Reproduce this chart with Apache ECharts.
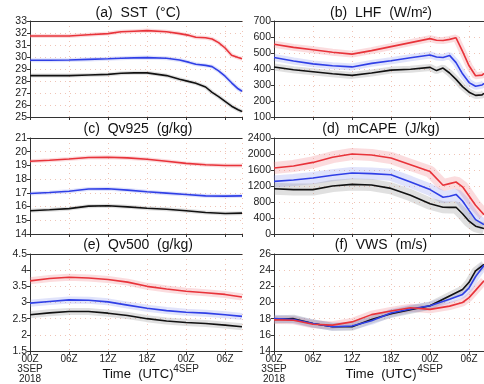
<!DOCTYPE html>
<html><head><meta charset="utf-8">
<script src="https://cdn.jsdelivr.net/npm/echarts@6/dist/echarts.min.js"></script>
<style>html,body{margin:0;padding:0;background:#fff}#c{width:484px;height:384px}</style>
</head><body><div id="c"></div>
<script>
// ---- data (hours since 00Z 3 SEP 2018) ----
const tickLabels = ["00Z\n3SEP\n2018", "06Z", "12Z", "18Z", "00Z\n4SEP", "06Z"];

const hoursA = [0,3,6,9,12,14,16,18,21,23,24.5,25.5,27,28,29,30,31,32,32.6];
const redA   = [31.75,31.75,31.75,31.85,31.95,32.1,32.15,32.2,32.1,31.95,31.8,31.65,31.6,31.5,31.2,30.75,30.15,29.95,29.85];
const blueA  = [29.73,29.73,29.75,29.8,29.85,29.9,29.93,29.95,29.9,29.75,29.55,29.4,29.3,29.2,28.85,28.4,27.85,27.35,27.15];
const blackA = [28.45,28.45,28.45,28.5,28.55,28.65,28.68,28.68,28.45,28.15,27.95,27.82,27.5,27.05,26.7,26.3,25.9,25.6,25.45];

const hoursB = [0,3,6,9,12,15,18,21,24,25,26,27,28,29,30,31,32,32.3];
const redB   = [555,535,520,505,493,515,540,565,590,580,578,585,595,510,420,358,362,372];
const blueB  = [472,450,432,420,413,435,452,470,488,475,472,485,440,370,315,292,300,310];
const blackB = [413,395,383,370,360,375,393,398,410,390,406,375,335,290,255,235,238,248];

const hoursC = [0,3,6,9,12,15,18,21,24,27,30,32.6];
const redC   = [19.3,19.38,19.47,19.58,19.6,19.55,19.45,19.3,19.15,19.05,19.0,19.0];
const blueC  = [16.95,17.03,17.12,17.28,17.3,17.2,17.08,16.98,16.88,16.78,16.76,16.78];
const blackC = [15.7,15.77,15.85,16.03,16.06,15.98,15.88,15.8,15.7,15.57,15.5,15.52];

const hoursD = [0,3,6,9,12,15,18,21,24,26,27,28,29,30,31,32.3];
const redD   = [1650,1700,1790,1920,2000,1975,1900,1730,1560,1220,1260,1300,1180,950,720,480];
const blueD  = [1315,1350,1400,1470,1525,1510,1480,1300,1110,920,945,990,825,590,360,235];
const blackD = [1130,1110,1110,1200,1240,1225,1140,970,755,670,665,670,505,320,195,135];

const hoursE = [0,3,6,9,12,15,18,21,24,27,30,32.6];
const redE   = [3.67,3.74,3.78,3.76,3.71,3.63,3.5,3.42,3.35,3.3,3.25,3.17];
const blueE  = [2.98,3.03,3.08,3.07,3.02,2.92,2.82,2.75,2.7,2.67,2.62,2.57];
const blackE = [2.62,2.68,2.72,2.72,2.67,2.6,2.5,2.43,2.38,2.35,2.3,2.25];

const hoursF = [0,3,6,9,12,15,18,21,24,27,29,30,31,32.3];
const redF   = [17.85,17.8,17.3,17.2,17.6,18.5,18.95,19.35,19.15,19.55,20.0,20.6,21.5,22.7];
const blueF  = [18.0,17.9,17.4,17.0,17.1,17.75,18.7,19.2,19.6,20.4,21.0,21.8,23.2,24.6];
const blackF = [17.9,18.0,17.4,17.0,17.0,17.9,18.6,19.1,19.6,20.8,21.6,22.5,23.9,24.7];

const titles = ["(a)  SST  (°C)", "(b)  LHF  (W/m²)", "(c)  Qv925  (g/kg)", "(d)  mCAPE  (J/kg)", "(e)  Qv500  (g/kg)", "(f)  VWS  (m/s)"];
const xTitle = "Time  (UTC)";

// ---- layout / styles ----
const cols = [{left: 30, width: 212, max: 32.6, cx: 138}, {left: 274, width: 210, max: 32.3, cx: 381}];
const rows = [{top: 21, height: 96, ty: 13}, {top: 138, height: 96, ty: 129}, {top: 254, height: 98, ty: 245}];
const panels = [
  {h: hoursA, s: [redA, blueA, blackA], min: 25, max: 33, iv: 1, band: 4},
  {h: hoursB, s: [redB, blueB, blackB], min: 100, max: 700, iv: 100, band: 7},
  {h: hoursC, s: [redC, blueC, blackC], min: 14, max: 21, iv: 1, band: 4},
  {h: hoursD, s: [redD, blueD, blackD], min: 0, max: 2400, iv: 400, band: 12},
  {h: hoursE, s: [redE, blueE, blackE], min: 1.5, max: 4.5, iv: 0.5, band: 7},
  {h: hoursF, s: [redF, blueF, blackF], min: 14, max: 26, iv: 2, band: 8}
];
const lineColors = ['#e8333a', '#2f3fe6', '#111111'];
const bandColors = ['rgba(240,130,135,0.28)', 'rgba(130,145,240,0.25)', 'rgba(130,130,130,0.25)'];
const gridColor = '#efc4b6';
const font = 'Liberation Sans, Arial, sans-serif';

const grid = [], xAxis = [], yAxis = [], series = [], graphic = [];
panels.forEach((p, i) => {
  const c = cols[i % 2], r = rows[Math.floor(i / 2)];
  const bottomRow = Math.floor(i / 2) === 2;
  grid.push({left: c.left, top: r.top, width: c.width, height: r.height, containLabel: false});
  xAxis.push({
    type: 'value', gridIndex: i, min: 0, max: c.max, interval: 6, position: 'bottom',
    axisLine: {show: true, lineStyle: {color: '#333', width: 1}},
    axisTick: {show: true, length: 3, lineStyle: {color: '#333'}},
    axisLabel: {show: bottomRow, showMaxLabel: false, color: '#222', fontFamily: font, fontSize: 10, lineHeight: 10, margin: 3,
      formatter: v => (Math.abs(v / 6 - Math.round(v / 6)) < 1e-6 ? (tickLabels[Math.round(v / 6)] || '') : '')},
    splitLine: {show: true, lineStyle: {color: gridColor, type: [1, 4], width: 1}}
  });
  xAxis.push({
    type: 'value', gridIndex: i, min: 0, max: c.max, position: 'top',
    axisLine: {show: true, onZero: false, lineStyle: {color: '#333', width: 1}},
    axisTick: {show: false}, axisLabel: {show: false}, splitLine: {show: false}
  });
  yAxis.push({
    type: 'value', gridIndex: i, min: p.min, max: p.max, interval: p.iv,
    axisLine: {show: true, lineStyle: {color: '#333', width: 1}},
    axisTick: {show: true, length: 3, lineStyle: {color: '#333'}},
    axisLabel: {color: '#222', fontFamily: font, fontSize: 10.5, margin: 3, formatter: v => String(v)},
    splitLine: {show: true, lineStyle: {color: gridColor, type: [1, 4], width: 1}}
  });
  p.s.forEach((vals, k) => {
    const data = p.h.map((t, j) => [t, vals[j]]);
    series.push({type: 'line', xAxisIndex: 2 * i, yAxisIndex: i, data, symbol: 'none', silent: true, z: 2,
      lineStyle: {color: bandColors[k], width: p.band}, clip: true});
  });
  [2, 1, 0].forEach(k => {
    const data = p.h.map((t, j) => [t, p.s[k][j]]);
    series.push({type: 'line', xAxisIndex: 2 * i, yAxisIndex: i, data, symbol: 'none', silent: true, z: 3,
      lineStyle: {color: lineColors[k], width: 1.6}, clip: true});
  });
  graphic.push({type: 'text', x: c.cx, y: r.ty, style: {text: titles[i], fill: '#111', font: '14px ' + font, textAlign: 'center', textVerticalAlign: 'middle'}});
});
cols.forEach(c => {
  graphic.push({type: 'text', x: c.cx, y: 374, style: {text: xTitle, fill: '#111', font: '13px ' + font, textAlign: 'center', textVerticalAlign: 'middle'}});
});

const chart = echarts.init(document.getElementById('c'), null, {renderer: 'canvas'});
chart.setOption({animation: false, backgroundColor: '#fff', grid, xAxis, yAxis, series, graphic});
</script></body></html>
